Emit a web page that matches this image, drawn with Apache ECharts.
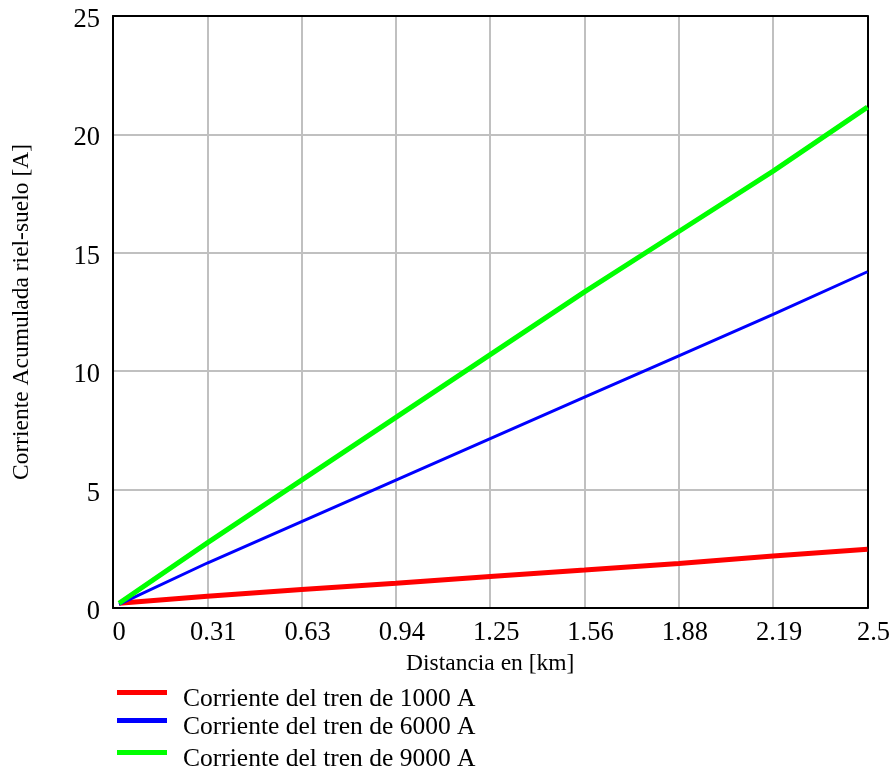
<!DOCTYPE html>
<html>
<head>
<meta charset="utf-8">
<script src="https://cdn.jsdelivr.net/npm/echarts@6/dist/echarts.min.js"></script>
<style>
  html, body { margin: 0; padding: 0; background: #fff; }
  #chart { width: 893px; height: 770px; }
</style>
</head>
<body>
<div id="chart"></div>
<script>
// distance along the track [km]
const distanceKm = [0.02, 0.3125, 0.625, 0.9375, 1.25, 1.5625, 1.875, 2.1875, 2.5]
// accumulated rail-to-ground current [A]
const current1000 = [0.2, 0.5, 0.78, 1.05, 1.33, 1.6, 1.88, 2.2, 2.48]
const current6000 = [0.15, 1.9, 3.65, 5.4, 7.15, 8.9, 10.65, 12.4, 14.2]
const current9000 = [0.2, 2.75, 5.4, 8.05, 10.7, 13.35, 15.9, 18.45, 21.15]

const xTickLabels = ['0', '0.31', '0.63', '0.94', '1.25', '1.56', '1.88', '2.19', '2.5']
const seriesNames = ['Corriente del tren de 1000 A', 'Corriente del tren de 6000 A', 'Corriente del tren de 9000 A']

const font = 'Liberation Serif'
const chart = echarts.init(document.getElementById('chart'))

function pairs(ys) {
  return distanceKm.map((x, i) => [x, ys[i]])
}

function legendRow(name, top) {
  return {
    data: [name],
    left: 117,
    top: top,
    padding: 0,
    icon: 'rect',
    itemWidth: 50,
    itemHeight: 5,
    formatter: '{t|{name}}',
    textStyle: {
      fontFamily: font, fontSize: 25.5, color: '#000',
      rich: { t: { fontFamily: font, fontSize: 25.5, color: '#000', padding: [13, 0, 0, 11] } },
    },
    selectedMode: false,
  }
}

// plain black frame on the top and right of the plot
const frameAxis = {
  show: true,
  axisLine: { show: true, onZero: false, lineStyle: { color: '#000', width: 2 } },
  axisTick: { show: false },
  axisLabel: { show: false },
  splitLine: { show: false },
}

chart.setOption({
  animation: false,
  backgroundColor: '#fff',
  grid: {
    left: 113, right: 25, top: 16, bottom: 162,
  },
  legend: [
    legendRow(seriesNames[0], 686),
    legendRow(seriesNames[1], 714),
    legendRow(seriesNames[2], 746),
  ],
  xAxis: [
    {
      type: 'value',
      min: 0, max: 2.5, interval: 0.3125,
      name: 'Distancia en [km]',
      nameLocation: 'middle',
      nameGap: 44,
      nameTextStyle: { fontFamily: font, fontSize: 23.5, color: '#000' },
      axisLine: { lineStyle: { color: '#000', width: 2 } },
      axisTick: { show: false },
      axisLabel: {
        fontFamily: font, fontSize: 26.5, color: '#000', margin: 12,
        padding: [0, 0, 0, 12],
        formatter: v => xTickLabels[Math.round(v / 0.3125)],
      },
      splitLine: { show: true, showMinLine: false, showMaxLine: false, lineStyle: { color: '#c0c0c0', width: 2 } },
    },
    Object.assign({ type: 'value', position: 'top', min: 0, max: 2.5 }, frameAxis),
  ],
  yAxis: [
    {
      type: 'value',
      min: 0, max: 25, interval: 5,
      name: 'Corriente Acumulada riel-suelo [A]',
      nameLocation: 'middle',
      nameGap: 79,
      nameTextStyle: { fontFamily: font, fontSize: 23.5, color: '#000' },
      axisLine: { show: true, lineStyle: { color: '#000', width: 2 } },
      axisTick: { show: false },
      axisLabel: {
        fontFamily: font, fontSize: 26.5, color: '#000', margin: 13,
        formatter: '{v|{value}}',
        rich: { v: { fontFamily: font, fontSize: 26.5, color: '#000', padding: [8, 0, 0, 0] } },
      },
      splitLine: { show: true, showMinLine: false, showMaxLine: false, lineStyle: { color: '#c0c0c0', width: 2 } },
    },
    Object.assign({ type: 'value', position: 'right', min: 0, max: 25 }, frameAxis),
  ],
  series: [
    {
      name: seriesNames[0], type: 'line', data: pairs(current1000),
      showSymbol: false, clip: false,
      lineStyle: { color: '#ff0000', width: 5 }, itemStyle: { color: '#ff0000' },
    },
    {
      name: seriesNames[1], type: 'line', data: pairs(current6000),
      showSymbol: false, clip: false,
      lineStyle: { color: '#0000ff', width: 3 }, itemStyle: { color: '#0000ff' },
    },
    {
      name: seriesNames[2], type: 'line', data: pairs(current9000),
      showSymbol: false, clip: false,
      lineStyle: { color: '#00ff00', width: 5 }, itemStyle: { color: '#00ff00' },
    },
  ],
})
</script>
</body>
</html>
